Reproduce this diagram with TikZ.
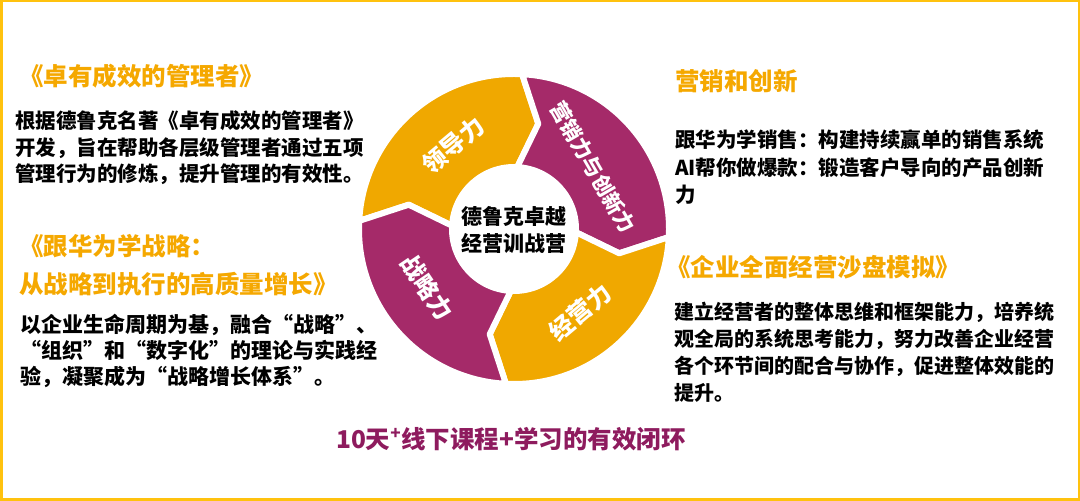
\documentclass[tikz,border=0pt]{standalone}
\usepackage{fontspec}
\setmainfont{Noto Sans CJK SC}
\usepackage{tikz}
\usetikzlibrary{positioning}
\definecolor{ringgold}{HTML}{F0A800}
\definecolor{ringplum}{HTML}{A52A69}
\definecolor{titlegold}{HTML}{F5A800}
\definecolor{sloganplum}{HTML}{8E1B5E}
\definecolor{framegold}{HTML}{FFC20E}

\begin{document}
\begin{tikzpicture}[
    x=1pt, y=1pt,
    ringseg/.style={draw=white, line width=6pt, line join=round},
    seglabel/.style={text=white, inner sep=0pt, font=\fontsize{24}{24}\selectfont\bfseries},
    booktitle/.style={text=titlegold, anchor=base west, inner sep=0pt, align=left, font=\fontsize{24.5}{38}\selectfont\bfseries},
    bodytext/.style={text=black, anchor=base west, inner sep=0pt, align=left, font=\fontsize{20.5}{26.5}\selectfont\bfseries},
]
\useasboundingbox (0,0) rectangle (1080,501);

% ============================================================
% FRAME
% ============================================================
\draw[framegold, line width=2.5pt] (1.25,1.25) rectangle (1078.75,499.75);

% ============================================================
% RING
% ============================================================
\begin{scope}[shift={(514,272)}]
    % Leadership
    \filldraw[ringseg, fill=ringgold] (177:155pt) arc[start angle=177, end angle=87, radius=155pt]
        -- (77:108pt) -- (87:62pt) arc[start angle=87, end angle=177, radius=62pt] -- (167:108pt) -- cycle;
    % Marketing and innovation
    \filldraw[ringseg, fill=ringplum] (87:155pt) arc[start angle=87, end angle=-3, radius=155pt]
        -- (-13:108pt) -- (-3:62pt) arc[start angle=-3, end angle=87, radius=62pt] -- (77:108pt) -- cycle;
    % Operations
    \filldraw[ringseg, fill=ringgold] (-3:155pt) arc[start angle=-3, end angle=-93, radius=155pt]
        -- (-103:108pt) -- (-93:62pt) arc[start angle=-93, end angle=-3, radius=62pt] -- (-13:108pt) -- cycle;
    % Strategy
    \filldraw[ringseg, fill=ringplum] (-93:155pt) arc[start angle=-93, end angle=-183, radius=155pt]
        -- (-193:108pt) -- (-183:62pt) arc[start angle=-183, end angle=-93, radius=62pt] -- (-103:108pt) -- cycle;

    % Segment labels
    \node[seglabel, rotate=40] (lead) at (-61,84) {领导力};
    \node[seglabel, rotate=-60, font=\fontsize{21}{21}\selectfont\bfseries] (mkt) at (79,62) {营销力与创新力};
    \node[seglabel, rotate=40] (oper) at (66,-83) {经营力};
    \node[seglabel, rotate=-56] (strat) at (-87,-58) {战略力};

    % Hub
    \node[font=\fontsize{21}{27}\selectfont\bfseries, align=center] (hub) at (0,-1) {德鲁克卓越\\经营训战营};
\end{scope}

% ============================================================
% LEFT COLUMN (anchors sit on the last line)
% ============================================================
\node[booktitle] (mgrtitle) at (19,415) {《卓有成效的管理者》};
\node[bodytext] (mgrbody) at (15,319) {根据德鲁克名著《卓有成效的管理者》\\开发，旨在帮助各层级管理者通过五项\\管理行为的修炼，提升管理的有效性。};

\node[booktitle] (strtitle) at (19,207) {《跟华为学战略：\\从战略到执行的高质量增长》};
\node[bodytext, font=\fontsize{21}{26}\selectfont\bfseries] (strbody) at (20,116) {以企业生命周期为基，融合“战略”、\\“组织”和“数字化”的理论与实践经\\验，凝聚成为“战略增长体系”。};

% ============================================================
% RIGHT COLUMN
% ============================================================
\node[booktitle] (mkttitle) at (675,410) {营销和创新};
\node[bodytext, font=\fontsize{20.5}{27.5}\selectfont\bfseries] (mktbody) at (675,298) {跟华为学销售：构建持续赢单的销售系统\\AI帮你做爆款：锻造客户导向的产品创新\\力};

\node[booktitle] (simtitle) at (666,224) {《企业全面经营沙盘模拟》};
\node[bodytext, font=\fontsize{20}{27.3}\selectfont\bfseries] (simbody) at (674,100) {建立经营者的整体思维和框架能力，培养统\\观全局的系统思考能力，努力改善企业经营\\各个环节间的配合与协作，促进整体效能的\\提升。};

% ============================================================
% SLOGAN
% ============================================================
\node[text=sloganplum, anchor=base, inner sep=0pt, font=\fontsize{24.5}{24.5}\selectfont\bfseries] (slogan) at (511,52) {10天\textsuperscript{+}线下课程+学习的有效闭环};

\end{tikzpicture}
\end{document}
